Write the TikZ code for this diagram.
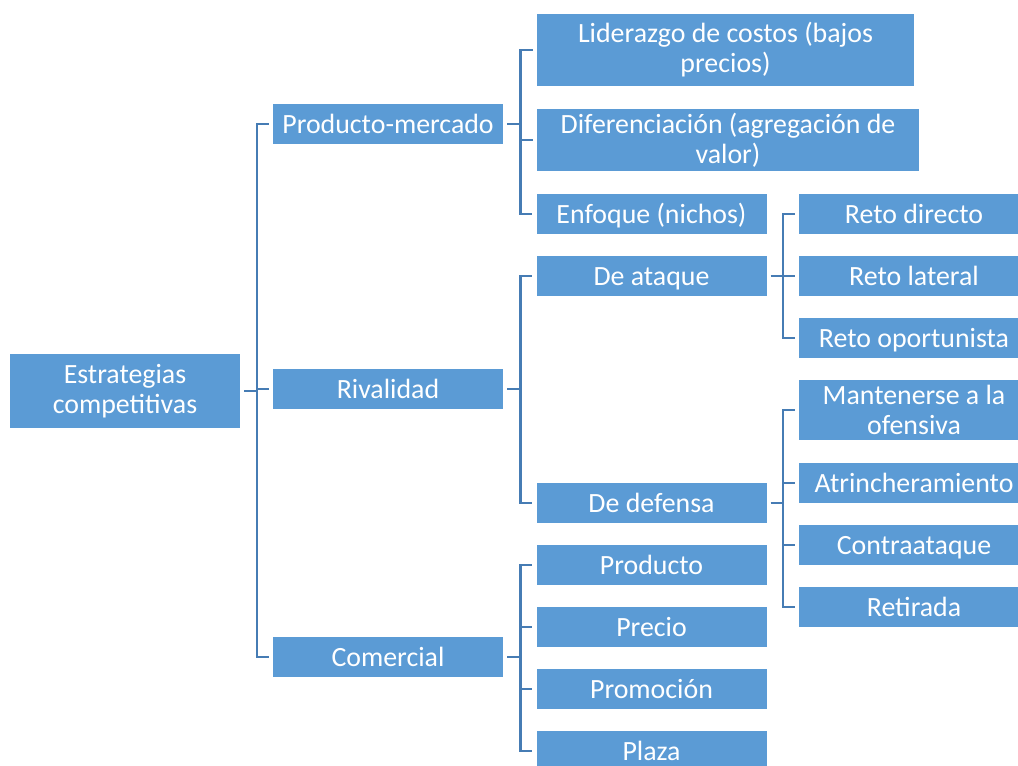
\documentclass[tikz,border=0pt]{standalone}
\usepackage{fontspec}
\setmainfont{Carlito}
\usetikzlibrary{positioning}
\definecolor{boxblue}{RGB}{91,155,213}
\definecolor{lineblue}{RGB}{70,124,180}

\begin{document}
\begin{tikzpicture}[
    x=0.7pt, y=-0.7pt,
    every node/.style={font=\fontsize{19.5}{21}\selectfont},
    block/.style={fill=boxblue, text=white, align=center, inner sep=0pt, minimum width=161pt},
    box/.style={block, text height=12.6pt, text depth=0pt, minimum height=28pt},
    root/.style={block, minimum height=51.8pt},
    tall/.style={block, minimum height=42pt},
    link/.style={draw=lineblue, line width=1.7pt, shorten <=2.8pt, shorten >=2.8pt}
]
\useasboundingbox (0,0) rectangle (1018,765);
% levels 1 and 2
\node[root] (strat) at (125,391) {Estrategias\\competitivas};
\node[box] (prodmerc) at (388,124) {Producto-mercado};
\node[box] (rival) at (388,389) {Rivalidad};
\node[box] (comerc) at (388,657) {Comercial};
% level 3
\node[block, minimum width=263.9pt, minimum height=50.4pt] (lider) at (725.5,50) {Liderazgo de costos (bajos\\precios)};
\node[block, minimum width=267.4pt, minimum height=43.4pt] (difer) at (728,140) {Diferenciación (agregación de\\valor)};
\node[box] (enfoque) at (651.5,214) {Enfoque (nichos)};
\node[box] (ataque) at (651.5,276) {De ataque};
\node[box] (defensa) at (651.5,503) {De defensa};
\node[box] (producto) at (651.5,565) {Producto};
\node[box] (precio) at (651.5,627) {Precio};
\node[box] (promo) at (651.5,689) {Promoción};
\node[box] (plaza) at (651.5,751) {Plaza};
% level 4
\node[box] (directo) at (914,214) {Reto directo};
\node[box] (lateral) at (914,276) {Reto lateral};
\node[box] (oport) at (914,338) {Reto oportunista};
\node[tall] (mante) at (914,410) {Mantenerse a la\\ofensiva};
\node[box] (atrinch) at (914,483) {Atrincheramiento};
\node[box] (contra) at (914,545) {Contraataque};
\node[box] (retira) at (914,607) {Retirada};
% connectors
\foreach \child in {prodmerc,rival,comerc}
  \draw[link] (strat.east) -- ++(16.5,0) |- (\child.west);
\foreach \child in {lider,difer,enfoque}
  \draw[link] (prodmerc.east) -- ++(17,0) |- (\child.west);
\foreach \child in {ataque,defensa}
  \draw[link] (rival.east) -- ++(17,0) |- (\child.west);
\foreach \child in {producto,precio,promo,plaza}
  \draw[link] (comerc.east) -- ++(17,0) |- (\child.west);
\foreach \child in {directo,lateral,oport}
  \draw[link] (ataque.east) -- ++(16,0) |- (\child.west);
\foreach \child in {mante,atrinch,contra,retira}
  \draw[link] (defensa.east) -- ++(16,0) |- (\child.west);
\end{tikzpicture}
\end{document}
